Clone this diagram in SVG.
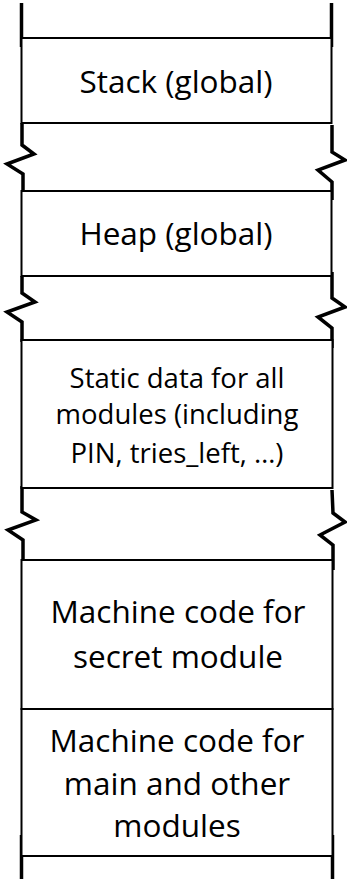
<svg xmlns="http://www.w3.org/2000/svg" width="347" height="879" viewBox="0 0 347 879">
  <style>
    .box { fill: #ffffff; stroke: #000000; stroke-width: 2; }
    .brk { fill: none; stroke: #000000; stroke-width: 3.5; stroke-linejoin: miter; stroke-linecap: butt; }
    .lbl { font-family: "Open Sans", "Liberation Sans", sans-serif; fill: #000000; text-anchor: middle; }
    .big { font-size: 31.5px; }
    .mid { font-size: 27.5px; }
    .lg { font-size: 31.5px; }
  </style>
  <rect width="347" height="879" fill="#ffffff"/>

  <!-- open-ended column edges and break marks -->
  <g id="connectors">
    <line class="brk" x1="21.5" y1="3" x2="21.5" y2="47"/>
    <line class="brk" x1="331.5" y1="3" x2="331.5" y2="47"/>
    <path class="brk" d="M22,123 L22,145 L34,154 L7,164 L23,174 L23,196"/>
    <path class="brk" d="M332,125 L332,152 L345,160 L318,170 L332,182 L332,200"/>
    <path class="brk" d="M22,276 L22,293 L35,302 L7,312 L22,322 L22,342"/>
    <path class="brk" d="M332,272 L332,298 L345,307 L318,317 L332,328 L332,348"/>
    <path class="brk" d="M22,486 L22,512 L36,520 L8,530 L23,540 L23,562"/>
    <path class="brk" d="M332,490 L333,513 L345,522 L320,535 L333,545 L333,570"/>
    <line class="brk" x1="21.5" y1="835" x2="21.5" y2="879"/>
    <line class="brk" x1="332.5" y1="835" x2="332.5" y2="879"/>
  </g>

  <g id="stack">
    <rect class="box" x="21.5" y="38" width="310" height="85"/>
    <text class="lbl big" x="176" y="93">Stack (global)</text>
  </g>

  <g id="heap">
    <rect class="box" x="21.5" y="191" width="310" height="85"/>
    <text class="lbl big" x="176" y="245">Heap (global)</text>
  </g>

  <g id="static-data">
    <rect class="box" x="21.5" y="340" width="311" height="148"/>
    <text class="lbl mid" x="177" y="388">Static data for all</text>
    <text class="lbl mid" x="177" y="424">modules (including</text>
    <text class="lbl mid" x="177" y="463">PIN, tries_left, …)</text>
  </g>

  <g id="secret-code">
    <rect class="box" x="21.5" y="560" width="311" height="149"/>
    <text class="lbl lg" x="178" y="623">Machine code for</text>
    <text class="lbl lg" x="178" y="668">secret module</text>
  </g>

  <g id="main-code">
    <rect class="box" x="21.5" y="709" width="311" height="147"/>
    <text class="lbl lg" x="177" y="752">Machine code for</text>
    <text class="lbl lg" x="177" y="795">main and other</text>
    <text class="lbl lg" x="177" y="837">modules</text>
  </g>
</svg>
